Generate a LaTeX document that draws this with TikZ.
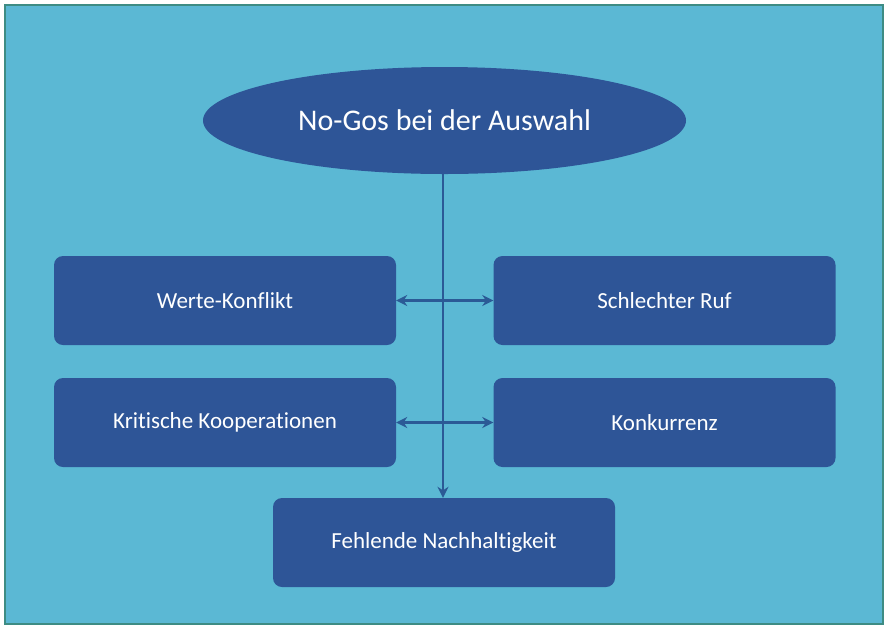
\documentclass[tikz,border=0pt]{standalone}
\usepackage{fontspec}
\setmainfont[Ligatures={NoCommon}]{Carlito}
\usetikzlibrary{shapes.geometric,arrows.meta}
\definecolor{bgblue}{HTML}{5BB8D4}
\definecolor{bgborder}{HTML}{3E8C84}
\definecolor{boxblue}{HTML}{2E5597}
\definecolor{linkblue}{HTML}{2B5A96}
\tikzset{
  itembox/.style={draw=none, fill=boxblue, rounded corners=9pt, minimum width=342pt, minimum height=89pt, text=white, font=\fontsize{23}{26}\selectfont, inner sep=0pt},
  link/.style={draw=linkblue, line width=2.8pt, -{Stealth[length=11pt,width=11pt]}},
  dlink/.style={draw=linkblue, line width=2.8pt, {Stealth[length=11pt,width=11pt]}-{Stealth[length=11pt,width=11pt]}}
}
\begin{document}
\begin{tikzpicture}[x=1pt,y=-1pt]
\useasboundingbox (0,0) rectangle (888,630);
\fill[white] (0,0) rectangle (888,630);
\draw[fill=bgblue, draw=bgborder, line width=1.5pt] (5,5) rectangle (883,624);
\node[ellipse, fill=boxblue, minimum width=483pt, minimum height=107pt, inner sep=0pt, text=white, font=\fontsize{30}{34}\selectfont] (top) at (444.5,120.5) {No-Gos bei der Auswahl};
\node[itembox] (werte) at (225,300.5) {Werte-Konflikt};
\node[itembox] (ruf) at (664.5,300.5) {Schlechter Ruf};
\node[itembox] (krit) at (225,422.5) {Kritische Kooperationen};
\node[itembox] (konk) at (664.5,422.5) {Konkurrenz};
\node[itembox] (fehl) at (444,542.5) {Fehlende Nachhaltigkeit};
\draw[link] (top.south -| 443,0) -- (fehl.north -| 443,0);
\draw[dlink] (werte.east) -- (ruf.west);
\draw[dlink] (krit.east) -- (konk.west);
\end{tikzpicture}
\end{document}
